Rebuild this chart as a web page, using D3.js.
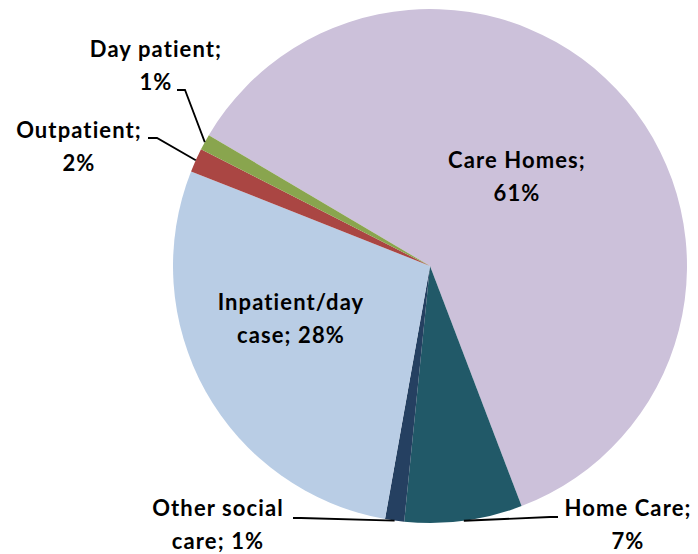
<!DOCTYPE html>
<html>
<head>
<meta charset="utf-8">
<script src="https://cdn.jsdelivr.net/npm/d3@7/dist/d3.min.js"></script>
<style>
  body { margin: 0; background: #fff; }
  text { font-family: Lato, "Open Sans", sans-serif; font-weight: bold; fill: #000; }
</style>
</head>
<body>
<div id="chart"></div>
<script>
// Slices, in clockwise order starting from Care Homes.
var categories = ["Care Homes", "Home Care", "Other social care", "Inpatient/day case", "Outpatient", "Day patient"];
var shares = [60.7, 7.4, 1.2, 28.2, 1.5, 1.0];
var colors = ["#CCC1DA", "#215968", "#254061", "#B9CDE5", "#AA4643", "#89A54E"];
// How each label wraps onto two lines ("{p}" gets filled in from the value).
var labelLines = [
    ["Care Homes;", "{p}"],
    ["Home Care;", "{p}"],
    ["Other social", "care; {p}"],
    ["Inpatient/day", "case; {p}"],
    ["Outpatient;", "{p}"],
    ["Day patient;", "{p}"]
];

var width = 698,
    height = 554;

var cx = 430, cy = 266, radius = 257;

// label placement (Excel lets the labels be dragged, so these are by hand)
var labelLayout = [
    { x: 517, y: 168, leader: null },
    { x: 628, y: 516, leader: [[558, 517], [550, 517]] },
    { x: 218, y: 516, leader: [[293, 518], [301, 518]] },
    { x: 291, y: 310, leader: null },
    { x: 79, y: 138, leader: [[148, 138], [157, 138]] },
    { x: 156, y: 57, leader: [[177, 90], [185, 90]] }
];
var lineGap = 32.5;

var data = categories.map(function(c, i) {
    return { name: c, value: shares[i], color: colors[i], lines: labelLines[i], layout: labelLayout[i] };
});

var svg = d3.select("#chart")
    .append("svg")
    .attr("width", width)
    .attr("height", height);

var g = svg.append("g")
    .attr("transform", `translate(${cx}, ${cy})`);

var start = -59.4 * Math.PI / 180;
var pie = d3.pie()
    .sort(null)
    .value(function(d) { return d.value; })
    .startAngle(start)
    .endAngle(start + 2 * Math.PI);

var arc = d3.arc()
    .innerRadius(0)
    .outerRadius(radius);

var arcs = pie(data);

g.selectAll("path.slice")
    .data(arcs)
    .enter()
    .append("path")
    .attr("class", "slice")
    .attr("d", arc)
    .style("fill", function(d) { return d.data.color; });

// Leader lines: label end -> short elbow -> edge of the slice.
var line = d3.line();
svg.selectAll("path.leader")
    .data(arcs.filter(function(d) { return d.data.layout.leader; }))
    .enter()
    .append("path")
    .attr("class", "leader")
    .attr("d", function(d) {
        var mid = (d.startAngle + d.endAngle) / 2;
        var edge = [cx + Math.sin(mid) * radius, cy - Math.cos(mid) * radius];
        return line(d.data.layout.leader.concat([edge]));
    })
    .style("fill", "none")
    .style("stroke", "#000")
    .style("stroke-width", 1.8);

var labels = svg.selectAll("text.label")
    .data(arcs)
    .enter()
    .append("text")
    .attr("class", "label")
    .attr("text-anchor", "middle")
    .style("font-size", "22px")
    .style("letter-spacing", "1.1px");

labels.selectAll("tspan")
    .data(function(d) {
        var p = Math.round(d.data.value) + "%";
        return d.data.lines.map(function(t, k) {
            return { text: t.replace("{p}", p), x: d.data.layout.x, y: d.data.layout.y + k * lineGap };
        });
    })
    .enter()
    .append("tspan")
    .attr("x", function(d) { return d.x; })
    .attr("y", function(d) { return d.y; })
    .text(function(d) { return d.text; });
</script>
</body>
</html>
